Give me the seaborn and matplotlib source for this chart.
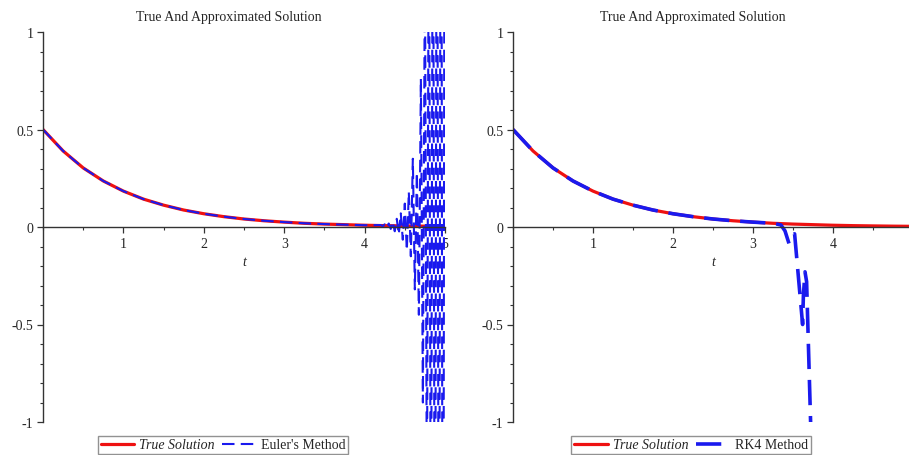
import numpy as np
import pandas as pd
import matplotlib.pyplot as plt
import seaborn as sns
from matplotlib.ticker import MultipleLocator

# values
true_t = [0.0, 0.25, 0.5, 0.75, 1.0, 1.25, 1.5, 1.75, 2.0, 2.25, 2.5, 2.75,
          3.0, 3.25, 3.5, 3.75, 4.0, 4.25, 4.5, 4.75, 5.0]
true_y = [0.5, 0.39, 0.303, 0.236, 0.184, 0.143, 0.112, 0.087, 0.068, 0.053,
          0.041, 0.032, 0.025, 0.019, 0.015, 0.012, 0.009, 0.007, 0.0056,
          0.0043, 0.0034]

euler_t = [0.0, 0.25, 0.5, 0.75, 1.0, 1.25, 1.5, 1.75, 2.0, 2.25, 2.5, 2.75,
           3.0, 3.25, 3.5, 3.75, 4.0, 4.2, 4.225, 4.25, 4.275, 4.3, 4.325,
           4.35, 4.375, 4.4, 4.425, 4.45, 4.475, 4.5, 4.525, 4.55, 4.575,
           4.6, 4.625, 4.65, 4.675, 4.7, 4.725, 4.75, 4.775, 4.8, 4.825,
           4.85, 4.875, 4.9, 4.925, 4.95, 4.975, 5.0]
euler_y = [0.5, 0.39, 0.303, 0.236, 0.184, 0.143, 0.112, 0.087, 0.068, 0.053,
           0.041, 0.032, 0.025, 0.019, 0.015, 0.012, 0.009, 0.010, 0.004,
           0.014, -0.004, 0.018, -0.010, 0.028, -0.022, 0.042, -0.038, 0.07,
           -0.065, 0.12, -0.12, 0.18, -0.15, 0.35, -0.32, 0.28, -0.45, 0.76,
           -0.9, 1.4, -1.5, 2.0, -2.2, 2.5, -2.8, 3.0, -3.2, 3.5, -3.8, 4.0]

rk4_t = [0.0, 0.25, 0.5, 0.75, 1.0, 1.25, 1.5, 1.75, 2.0, 2.25, 2.5, 2.75,
         3.0, 3.25, 3.3, 3.35, 3.4, 3.45, 3.5, 3.52, 3.62, 3.63, 3.65, 3.67,
         3.72, 3.75]
rk4_y = [0.5, 0.39, 0.303, 0.236, 0.184, 0.143, 0.112, 0.087, 0.068, 0.053,
         0.041, 0.032, 0.025, 0.019, 0.015, 0.010, -0.02, -0.085, -0.04,
         -0.035, -0.50, -0.35, -0.23, -0.28, -1.0, -1.6]

left_x_ticks = [1, 2, 3, 4, 5]
right_x_ticks = [1, 2, 3, 4]
y_ticks = [-1, -0.5, 0, 0.5, 1]
y_tick_labels = ["-1", "-0.5", "0", "0.5", "1"]
title = "True And Approximated Solution"

RED = "#ee1111"
BLUE = "#1a1aee"

sns.set_style("white")
plt.rcParams["font.family"] = ["Liberation Serif", "DejaVu Serif"]
plt.rcParams["axes.unicode_minus"] = False

fig = plt.figure(figsize=(9.09, 4.56), dpi=100)
ax1 = fig.add_axes([43 / 909, 33 / 456, 402 / 909, 390 / 456])
ax2 = fig.add_axes([513 / 909, 33 / 456, 396 / 909, 390 / 456])

true_df = pd.DataFrame({"t": true_t, "y": true_y})
euler_df = pd.DataFrame({"t": euler_t, "y": euler_y})
rk4_df = pd.DataFrame({"t": rk4_t, "y": rk4_y})


def style_axis(ax, xmax, x_ticks):
    ax.set_xlim(0, xmax)
    ax.set_ylim(-1, 1)
    for side in ["top", "right"]:
        ax.spines[side].set_visible(False)
    ax.spines["left"].set_position(("data", 0))
    ax.spines["bottom"].set_position(("data", 0))
    for side in ["left", "bottom"]:
        ax.spines[side].set_color("#333333")
        ax.spines[side].set_linewidth(1.0)
    ax.set_xticks(x_ticks)
    ax.set_xticklabels([str(v) for v in x_ticks])
    ax.xaxis.set_minor_locator(MultipleLocator(0.5))
    ax.set_yticks(y_ticks)
    ax.set_yticklabels(y_tick_labels)
    ax.yaxis.set_minor_locator(MultipleLocator(0.1))
    ax.tick_params(which="major", direction="out", length=4, width=0.9,
                   color="#333333", labelsize=10, pad=3)
    ax.tick_params(which="minor", direction="out", length=2.5, width=0.8,
                   color="#333333")
    ax.tick_params(axis="x", which="both", bottom=True)
    ax.tick_params(axis="y", which="both", left=True)
    ax.set_xlabel("")
    ax.set_ylabel("")
    ax.text(2.5, -0.175, "t", style="italic", fontsize=10, ha="center",
            va="center")


# left panel: Euler
sns.lineplot(data=true_df, x="t", y="y", ax=ax1, color=RED, linewidth=2.3,
             label="True Solution")
sns.lineplot(data=euler_df, x="t", y="y", ax=ax1, color=BLUE, linewidth=1.5,
             linestyle=(0, (6, 3)), label="Euler's Method")
style_axis(ax1, 5, left_x_ticks)

# right panel: RK4
sns.lineplot(data=true_df, x="t", y="y", ax=ax2, color=RED, linewidth=2.3,
             label="True Solution")
sns.lineplot(data=rk4_df, x="t", y="y", ax=ax2, color=BLUE, linewidth=2.6,
             linestyle=(0, (7, 3)), label="RK4 Method")
style_axis(ax2, 4.95, right_x_ticks)

for ax, cx in [(ax1, 223), (ax2, 691)]:
    handles, labels = ax.get_legend_handles_labels()
    ax.get_legend().remove()
    leg = fig.legend(handles, labels, loc="center",
                     bbox_to_anchor=(cx / 909, 1 - 446 / 456),
                     ncol=2, frameon=True, fancybox=False, fontsize=10,
                     handlelength=2.4, handletextpad=0.4, columnspacing=0.5,
                     borderpad=0.2, edgecolor="#777777")
    leg.get_frame().set_linewidth(1.0)
    leg.get_texts()[0].set_style("italic")

fig.text(229 / 909, 1 - 17 / 456, title, ha="center", va="center",
         fontsize=10)
fig.text(693 / 909, 1 - 17 / 456, title, ha="center", va="center",
         fontsize=10)

fig.savefig("out.png", dpi=100)
plt.close(fig)
